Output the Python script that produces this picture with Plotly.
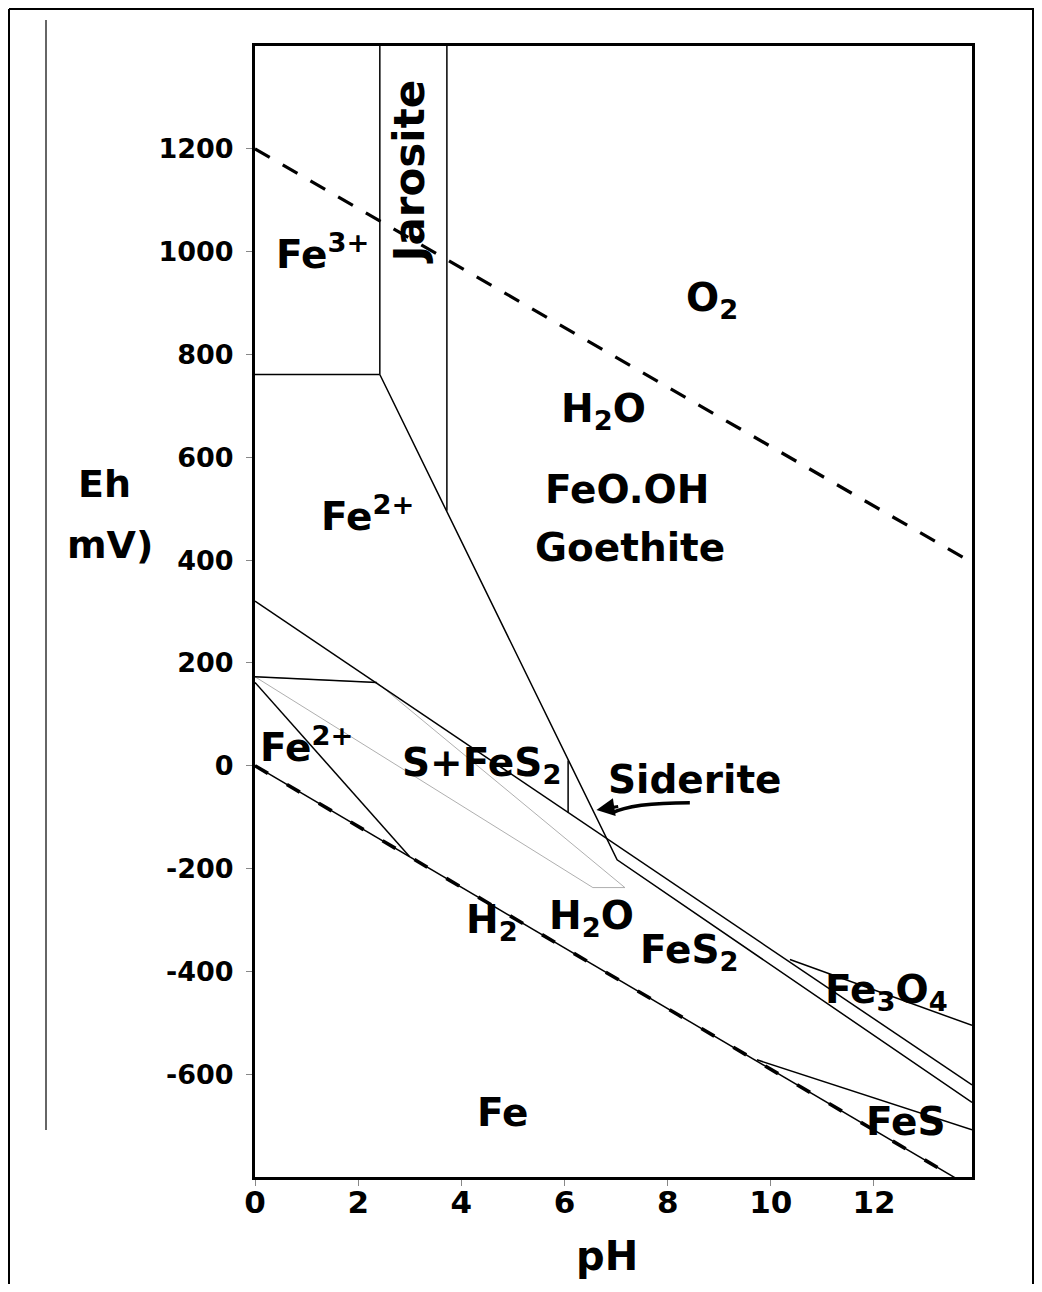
import plotly.graph_objects as go

# ---------------- data ----------------
ph_ticks = [0, 2, 4, 6, 8, 10, 12]
eh_ticks = [-600, -400, -200, 0, 200, 400, 600, 800, 1000, 1200]

# water stability limits
o2_ph = [0, 13.9]
o2_eh = [1200, 395]
h2_ph = [0, 13.58]
h2_eh = [0, -802]

# solid boundaries
fe3_fe2_ph = [0, 2.42]
fe3_fe2_eh = [761, 761]
jaro_left_ph = [2.42, 2.42]
jaro_left_eh = [1400, 761]
jaro_right_ph = [3.72, 3.72]
jaro_right_eh = [1400, 496]
goethite_ph = [2.42, 7.02, 13.9]
goethite_eh = [761, -183, -655]
sulfur_ph = [0, 13.9]
sulfur_eh = [320, -621]
siderite_ph = [6.07, 6.07]
siderite_eh = [10, -91]
fe2_s_ph = [0, 2.36]
fe2_s_eh = [173, 162]
fe2_fes2_ph = [0, 3.0]
fe2_fes2_eh = [162, -177]
magnetite_ph = [10.37, 13.9]
magnetite_eh = [-377, -505]
fes_ph = [9.73, 13.9]
fes_eh = [-572, -708]

# thin grey S+FeS2 field outline
grey_ph = [0, 6.55, 7.17, 2.36]
grey_eh = [173, -237, -237, 162]

# field labels
labels = ["Fe<sup>3+</sup>", "O<sub>2</sub>", "H<sub>2</sub>O", "FeO.OH", "Goethite",
          "Fe<sup>2+</sup>", "Fe<sup>2+</sup>", "S+FeS<sub>2</sub>", "Siderite",
          "H<sub>2</sub>", "H<sub>2</sub>O", "FeS<sub>2</sub>",
          "Fe<sub>3</sub>O<sub>4</sub>", "FeS", "Fe"]
label_ph = [1.30, 8.86, 6.76, 7.21, 7.27, 2.19, 1.00, 4.40, 8.53, 4.59, 6.53, 8.43, 12.25, 12.62, 4.81]
label_eh = [1000, 905, 690, 537, 424, 490, 40, 2, -27, -304, -296, -362, -440, -693, -675]

jarosite_label = "Jarosite"
jarosite_pos = (3.0, 1156)

# siderite arrow (tail -> tip)
arrow_tail = (8.43, -72)
arrow_ctrl = (7.3, -72)
arrow_tip = (6.62, -86)

# ---------------- figure ----------------
# the page adds an 8px body margin, so the figure is 16px smaller than the window
FIG_W, FIG_H = 1026, 1276
OFF = 8
PLOT_L, PLOT_R, PLOT_T, PLOT_B = 255, 972, 46, 1177   # in window pixels

fig = go.Figure()

def line(xs, ys, width=1.5, color="black", dash=None):
    fig.add_trace(go.Scatter(x=xs, y=ys, mode="lines", showlegend=False, hoverinfo="skip",
                             line=dict(color=color, width=width, dash=dash)))

# grey thin outline
line(grey_ph + [grey_ph[0]], grey_eh + [grey_eh[0]], width=0.8, color="#9a9a9a")

for xs, ys in [(fe3_fe2_ph, fe3_fe2_eh), (jaro_left_ph, jaro_left_eh), (jaro_right_ph, jaro_right_eh),
               (goethite_ph, goethite_eh), (sulfur_ph, sulfur_eh), (siderite_ph, siderite_eh),
               (fe2_s_ph, fe2_s_eh), (fe2_fes2_ph, fe2_fes2_eh), (magnetite_ph, magnetite_eh),
               (fes_ph, fes_eh)]:
    line(xs, ys, width=1.5)

# water lines
line(o2_ph, o2_eh, width=3.2, dash="17px,15px")
line(h2_ph, h2_eh, width=1.5)
line(h2_ph, h2_eh, width=3.6, dash="15px,22px")

fnt = "DejaVu Sans"
for t, x, y in zip(labels, label_ph, label_eh):
    fig.add_annotation(x=x, y=y, text=t, showarrow=False,
                       font=dict(family=fnt, size=39, color="black", weight="bold"))

fig.add_annotation(x=jarosite_pos[0], y=jarosite_pos[1], text=jarosite_label, textangle=-90,
                   showarrow=False, font=dict(family=fnt, size=42, color="black", weight="bold"))

# curved siderite arrow
fig.add_shape(type="path", xref="x", yref="y",
              path=f"M {arrow_tail[0]},{arrow_tail[1]} Q {arrow_ctrl[0]},{arrow_ctrl[1]} {arrow_tip[0]+0.3},{arrow_tip[1]-6}",
              line=dict(color="black", width=3.5))
fig.add_annotation(x=arrow_tip[0], y=arrow_tip[1], ax=arrow_tip[0] + 0.45, ay=arrow_tip[1] + 7,
                   xref="x", yref="y", axref="x", ayref="y", text="", showarrow=True,
                   arrowhead=2, arrowsize=1.2, arrowwidth=3, arrowcolor="black")

def px2paper_x(px):
    return (px - PLOT_L) / (PLOT_R - PLOT_L)
def px2paper_y(py):
    return (PLOT_B - py) / (PLOT_B - PLOT_T)

# axis titles
for txt, px, py, sz in [("Eh", 104, 484, 38), ("mV)", 110, 545, 38), ("pH", 607, 1256, 40)]:
    fig.add_annotation(xref="paper", yref="paper", x=px2paper_x(px), y=px2paper_y(py), text=txt,
                       showarrow=False, xanchor="center", yanchor="middle",
                       font=dict(family=fnt, size=sz, color="black", weight="bold"))

# outer frame of the scanned page
for x0, y0, x1, y1, c, w in [(9, 9, 1034, 9, "black", 2), (9, 9, 9, 1284, "black", 2),
                              (1033, 9, 1033, 1284, "black", 2), (46, 20, 46, 1130, "#333", 1.5)]:
    fig.add_shape(type="line", xref="paper", yref="paper",
                  x0=px2paper_x(x0), y0=px2paper_y(y0), x1=px2paper_x(x1), y1=px2paper_y(y1),
                  line=dict(color=c, width=w))

fig.update_layout(
    width=FIG_W, height=FIG_H,
    margin=dict(l=PLOT_L - OFF, r=FIG_W - (PLOT_R - OFF), t=PLOT_T - OFF, b=FIG_H - (PLOT_B - OFF)),
    paper_bgcolor="white", plot_bgcolor="white",
    showlegend=False,
    xaxis=dict(range=[0, 13.9], tickvals=ph_ticks, ticktext=[str(v) for v in ph_ticks],
               ticks="outside", ticklen=6, tickcolor="#888", tickwidth=1,
               showline=True, linewidth=3, linecolor="black", mirror=True,
               showgrid=False, zeroline=False, ticklabelstandoff=-10,
               tickfont=dict(family=fnt, size=31, color="black", weight="bold")),
    yaxis=dict(range=[-800, 1400], tickvals=eh_ticks, ticktext=[str(v) for v in eh_ticks],
               ticks="outside", ticklen=6, tickcolor="#888", tickwidth=1,
               showline=True, linewidth=3, linecolor="black", mirror=True,
               showgrid=False, zeroline=False, ticklabelstandoff=7,
               tickfont=dict(family=fnt, size=27, color="black", weight="bold")),
)

fig.write_html("out.html")
